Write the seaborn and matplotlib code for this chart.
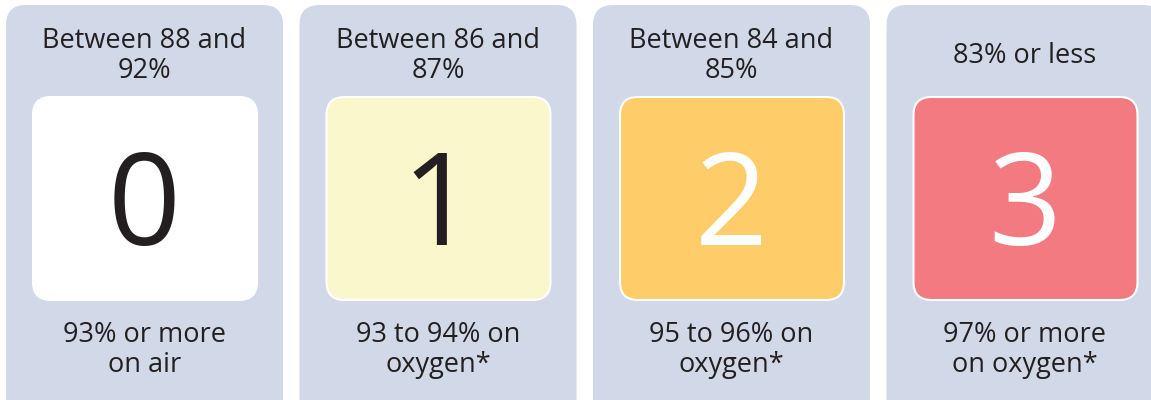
import matplotlib
matplotlib.use("Agg")
import matplotlib.pyplot as plt
from matplotlib.patches import FancyBboxPatch
import seaborn as sns

# Values
scores = ["0", "1", "2", "3"]
top_labels = ["Between 88 and\n92%", "Between 86 and\n87%", "Between 84 and\n85%", "83% or less"]
bottom_labels = ["93% or more\non air", "93 to 94% on\noxygen*", "95 to 96% on\noxygen*", "97% or more\non oxygen*"]
box_colors = ["#FFFFFF", "#FAF7CD", "#FFCC6A", "#F27A80"]
digit_colors = ["#231F20", "#231F20", "#FFFFFF", "#FFFFFF"]

sns.set_theme(style="white")
plt.rcParams["font.family"] = ["Open Sans", "DejaVu Sans"]

W, H = 1151, 400
fig = plt.figure(figsize=(W / 100, H / 100), dpi=100)
ax = fig.add_axes([0, 0, 1, 1])
ax.set_xlim(0, W)
ax.set_ylim(H, 0)
ax.axis("off")

panel_bg = "#D1D8E7"
text_color = "#231F20"
panel_w, step = 277, 293.5
for i, (score, top, bottom, bc, dc) in enumerate(zip(scores, top_labels, bottom_labels, box_colors, digit_colors)):
    x0 = 6 + i * step
    cx = x0 + panel_w / 2
    ax.add_patch(FancyBboxPatch((x0, 5), panel_w, 420, boxstyle="round,pad=0,rounding_size=20",
                                facecolor=panel_bg, edgecolor="none"))
    ax.add_patch(FancyBboxPatch((x0 + 27, 97), 224, 203, boxstyle="round,pad=0,rounding_size=18",
                                facecolor=bc, edgecolor="white", linewidth=1.5))
    ax.text(cx, 56, top, ha="center", va="center", fontsize=19.5, color=text_color, linespacing=1.12)
    ax.text(cx, 245, score, ha="center", va="baseline", fontsize=92, color=dc)
    ax.text(cx, 350, bottom, ha="center", va="center", fontsize=19.5, color=text_color, linespacing=1.12)

fig.savefig("out.png", dpi=100)
